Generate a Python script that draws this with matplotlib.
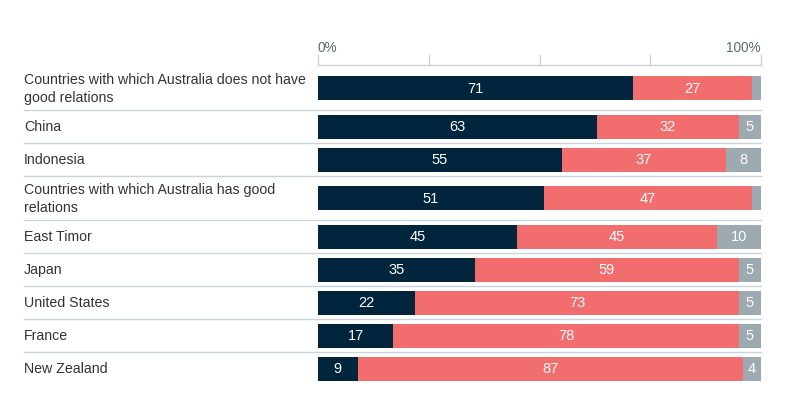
import matplotlib.pyplot as plt
from matplotlib.transforms import blended_transform_factory

plt.rcParams['font.family'] = ['Liberation Sans', 'DejaVu Sans']

categories = [
    'Countries with which Australia does not have\ngood relations',
    'China',
    'Indonesia',
    'Countries with which Australia has good\nrelations',
    'East Timor',
    'Japan',
    'United States',
    'France',
    'New Zealand',
]
dark = [71, 63, 55, 51, 45, 35, 22, 17, 9]
red = [27, 32, 37, 47, 45, 59, 73, 78, 87]
grey = [2, 5, 8, 2, 10, 5, 5, 5, 4]
ticks = [0, 25, 50, 75, 100]

colors = ['#00253d', '#f26d6d', '#9eaab1']
line_c = '#c8d3dc'

W, H = 785, 414
fig = plt.figure(figsize=(W / 100, H / 100), dpi=100)
x0, x1 = 318, 761
ax = fig.add_axes([x0 / W, 0, (x1 - x0) / W, 1])
ax.set_xlim(0, 100)
ax.set_ylim(H, 0)
ax.axis('off')

# row layout in pixels: two-line labels get taller rows
top = 67
centers, bounds = [], []
for c in categories:
    h = 44 if '\n' in c else 33
    centers.append(top + h / 2)
    top += h
    bounds.append(top)

# bars are stretched to 100% of each row's total
totals = [a + b + c for a, b, c in zip(dark, red, grey)]
left = [0] * len(categories)
for vals, col in zip([dark, red, grey], colors):
    widths = [v * 100 / t for v, t in zip(vals, totals)]
    ax.barh(centers, widths, left=left, height=24, color=col)
    for y, l, w, v in zip(centers, left, widths, vals):
        if v >= 4:
            ax.text(l + w / 2, y, str(v), ha='center', va='center',
                    color='white', fontsize=10.5)
    left = [a + b for a, b in zip(left, widths)]

# labels and separators
tr = blended_transform_factory(fig.transFigure, ax.transData)
for y, c in zip(centers, categories):
    ax.text(24 / W, y, c, transform=tr, ha='left', va='center',
            fontsize=10.2, color='#333333', linespacing=1.3)
for b in bounds[:-1]:
    ax.add_line(plt.Line2D([24 / W, x1 / W], [b, b], transform=tr,
                           color=line_c, lw=1, clip_on=False))

# top axis
ax.plot([0, 100], [66, 66], color=line_c, lw=1, clip_on=False)
for t in ticks:
    ax.plot([t, t], [56, 66], color=line_c, lw=1, clip_on=False)
ax.text(0, 47.5, '0%', ha='left', va='center', fontsize=9.8, color='#5f6b74')
ax.text(100, 47.5, '100%', ha='right', va='center', fontsize=9.8, color='#5f6b74')

fig.savefig('out.png', dpi=100)
